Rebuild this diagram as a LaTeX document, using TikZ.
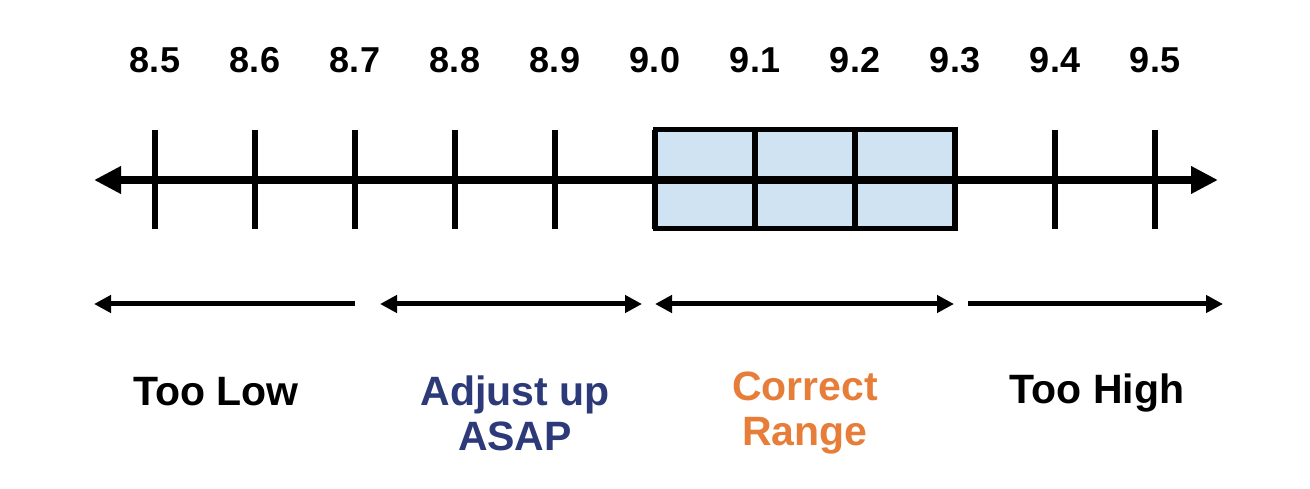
\documentclass[tikz,border=0pt]{standalone}
\usepackage{fontspec}
\setmainfont{Liberation Sans}
\usetikzlibrary{arrows.meta}
\definecolor{boxfill}{HTML}{D0E3F3}
\definecolor{navy}{HTML}{2C3A7A}
\definecolor{orng}{HTML}{E67E3A}
\tikzset{
  num/.style={font=\fontsize{36}{40}\selectfont\bfseries, anchor=base, inner sep=0pt},
  lab/.style={font=\fontsize{41}{45}\selectfont\bfseries, align=center, inner sep=0pt},
  axisline/.style={line width=8pt, {Triangle[length=27pt,width=26pt]}-{Triangle[length=27pt,width=26pt]}},
  tickmark/.style={line width=6pt},
  rangearrow/.style={line width=5pt},
  rhead/.style={Triangle[length=17pt,width=17pt]},
}
\begin{document}
\begin{tikzpicture}[x=1pt,y=-1pt]
\useasboundingbox (0,0) rectangle (1310,489);
% box
\fill[boxfill] (655,130) rectangle (955,229);
% axis
\coordinate (axL) at (94,180);
\coordinate (axR) at (1218,180);
\draw[axisline] (axL) -- (axR);
\draw[line width=5pt] (655,130) rectangle (955,229);
% ticks and numbers
\foreach \v [count=\i from 0] in {8.5,8.6,8.7,8.8,8.9,9.0,9.1,9.2,9.3,9.4,9.5} {
  \coordinate (t\i top) at (155+100*\i,130);
  \coordinate (t\i bot) at (155+100*\i,229);
  \draw[tickmark] (t\i top) -- (t\i bot);
  \node[num] (n\i) at (155+100*\i,73) {\v};
}
% range arrows
\coordinate (a1s) at (355,304); \coordinate (a1e) at (94,304);
\coordinate (a2s) at (380,304); \coordinate (a2e) at (642,304);
\coordinate (a3s) at (655,304); \coordinate (a3e) at (954,304);
\coordinate (a4s) at (968,304); \coordinate (a4e) at (1223,304);
\draw[rangearrow, -{Triangle[length=17pt,width=17pt]}] (a1s) -- (a1e);
\draw[rangearrow, {Triangle[length=17pt,width=17pt]}-{Triangle[length=17pt,width=17pt]}] (a2s) -- (a2e);
\draw[rangearrow, {Triangle[length=17pt,width=17pt]}-{Triangle[length=17pt,width=17pt]}] (a3s) -- (a3e);
\draw[rangearrow, -{Triangle[length=17pt,width=17pt]}] (a4s) -- (a4e);
% labels
\node[lab, anchor=base] (low) at (216,405) {Too Low};
\node[lab, text=navy] (adj) at (515,413) {Adjust up\\ASAP};
\node[lab, text=orng] (cor) at (805,413) {Correct\\Range};
\node[lab, anchor=base] (high) at (1097,403) {Too High};
\end{tikzpicture}
\end{document}
